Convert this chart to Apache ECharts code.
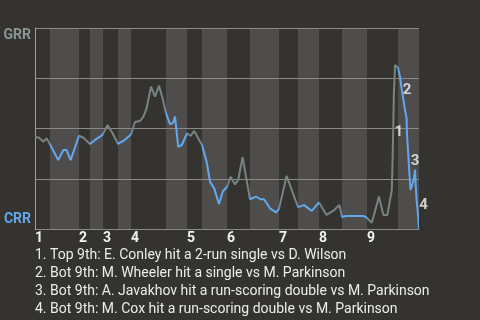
<!DOCTYPE html>
<html><head><meta charset="utf-8">
<script src="https://cdn.jsdelivr.net/npm/echarts@6/dist/echarts.min.js"></script>
<style>html,body{margin:0;padding:0;background:#353330}#c{width:480px;height:320px}</style>
</head><body><div id="c"></div>
<script>
// Game progress boundaries of each half-inning (top 1st, bottom 1st, ...), and game end
const halfInningStarts = [0, 3.75, 11, 13.75, 17, 20.75, 24, 32.75, 38, 41.75, 48, 53.75, 61, 65.75, 71, 76.75, 83, 90.75];
const gameEnd = 96;
const inningLabels = ['1','2','3','4','5','6','7','8','9'];
const topTeam = 'GRR';
const bottomTeam = 'CRR';

// Win probability for GRR (%) over game progress
const progress = [0,1,2.1,2.9,3.75, 5.8,7.1,7.9,8.9,11, 12.1,13.75, 15,16.9, 18.1,19.4,20.75, 22.1,24,
  25,26.25,27.1,27.9,29,30,31,31.9,32.75, 33.75,34.6,35,35.8,36.7,38, 38.9,39.8,41.75,
  42.9,43.75,44.8,46,47,48, 48.9,50,50.8,51.9,53.75, 55.25,56.4,57.25,58.75,60.25,61,
  62.9,65.75, 67.25,69.2,71, 72.9,74.6,76.1,76.75, 77.75,82.1,83,
  84.2,86,87.1,88.1,89.2,89.4,89.6,89.7,90,90.75,
  91.25,91.7,92.1,92.5,92.9,93,93.3,93.6,93.9,94.3,94.75,95,95.2,95.4,95.8,96];
const grrWinPct = [45.9,45.4,43.4,45.1,42.1, 34.3,39.3,39.3,34.3,46.4, 45.4,42.3, 44.3,46.8, 51.7,47.6,42.3, 43.8,47.0,
  53.2,53.7,55.9,60.0,70.8,65.8,71.3,65.0,57.6, 52.1,53.1,55.9,40.9,41.8,47.6, 46.3,48.8,41.8,
  33.5,23.5,20.2,12.4,18.9,20.9, 26.0,22.2,24.4,35.7,14.8, 16.1,14.8,14.8,10.3,8.3,10.0,
  26.4,10.9, 11.9,9.0,13.2, 7.0,9.1,11.9,6.0, 6.5,6.5,5.5,
  3.1,16.1,7.0,7.0,19.4,34.7,54.2,65.8,81.6,80.1,
  75.8,69.2,64.2,59.2,55.1,46.8,37.7,27.7,19.4,21.9,25.2,29.4,21.0,14.4,6.1,0];

// Key plays
const annotationLabels = ['1','2','3','4'];
const annotationProgress = [89.6, 91.7, 95, 95.8];
const annotationWinPct = [48, 69.2, 29.4, 11.9];
const playDescriptions = [
  '1. Top 9th: E. Conley hit a 2-run single vs D. Wilson',
  '2. Bot 9th: M. Wheeler hit a single vs M. Parkinson',
  '3. Bot 9th: A. Javakhov hit a run-scoring double vs M. Parkinson',
  '4. Bot 9th: M. Cox hit a run-scoring double vs M. Parkinson'
];

const GRAY = '#768383', BLUE = '#62a8ee', STRIPE = '#4f4d4b', GRID = '#8c8a87';

const lineData = progress.map((x, i) => [x, grrWinPct[i]]);
const bounds = halfInningStarts.concat([gameEnd]);
const pieces = [];
const stripes = [];
for (let i = 0; i < halfInningStarts.length; i++) {
  const p = { gte: bounds[i], color: i % 2 === 0 ? GRAY : BLUE };
  if (i < halfInningStarts.length - 1) p.lt = bounds[i + 1]; else p.lte = bounds[i + 1];
  pieces.push(p);
  if (i % 2 === 1) stripes.push([{ xAxis: bounds[i] }, { xAxis: bounds[i + 1] }]);
}
const topStarts = halfInningStarts.filter((v, i) => i % 2 === 0);
const annPos = ['right', 'right', 'top', 'right'];

const chart = echarts.init(document.getElementById('c'), null, { renderer: 'canvas' });
chart.setOption({
  backgroundColor: '#353330',
  animation: false,
  title: {
    left: 35, top: 246, padding: 0,
    text: playDescriptions.join('\n'),
    textStyle: { color: '#ececec', fontFamily: 'Roboto', fontWeight: 'normal', fontSize: 14, lineHeight: 18 }
  },
  grid: { left: 35, right: 61, top: 28, bottom: 91 },
  visualMap: { show: false, type: 'piecewise', dimension: 0, seriesIndex: 0, pieces: pieces },
  xAxis: {
    type: 'value', min: 0, max: gameEnd,
    splitLine: { show: false },
    axisLine: { show: true, lineStyle: { color: '#a3a19e', width: 1 } },
    axisTick: { show: false },
    axisLabel: {
      customValues: topStarts,
      formatter: v => inningLabels[topStarts.indexOf(v)],
      align: 'left', margin: 2,
      color: '#f2f2f2', fontFamily: 'Roboto', fontWeight: 'bold', fontSize: 14
    }
  },
  yAxis: {
    type: 'value', min: 0, max: 100, interval: 25, z: 1.5,
    axisLine: { show: true, lineStyle: { color: '#a3a19e', width: 1 } },
    axisTick: { show: false },
    splitLine: { show: true, lineStyle: { color: GRID, width: 1 } },
    axisLabel: {
      margin: 4,
      formatter: v => v === 100 ? '{sp| }\n{g|' + topTeam + '}' : (v === 0 ? '{c|' + bottomTeam + '}\n{sp2| }' : ''),
      rich: {
        g: { color: '#8c9595', fontFamily: 'Roboto', fontWeight: 'bold', fontSize: 14, lineHeight: 16 },
        c: { color: BLUE, fontFamily: 'Roboto', fontWeight: 'bold', fontSize: 14, lineHeight: 16 },
        sp: { fontSize: 10, lineHeight: 14 },
        sp2: { fontSize: 10, lineHeight: 20 }
      }
    }
  },
  series: [
    {
      type: 'line', data: lineData, showSymbol: false, smooth: false,
      lineStyle: { width: 2 }, silent: true,
      markArea: { silent: true, itemStyle: { color: STRIPE }, data: stripes }
    },
    {
      type: 'scatter', symbolSize: 0, silent: true, z: 5,
      data: annotationProgress.map((x, i) => ({
        value: [x, annotationWinPct[i]],
        label: { position: annPos[i] }
      })),
      label: {
        show: true, distance: 1,
        formatter: p => annotationLabels[p.dataIndex],
        color: '#f4f4f4', fontFamily: 'Roboto', fontWeight: 'bold', fontSize: 15
      }
    }
  ]
});
</script>
</body></html>
